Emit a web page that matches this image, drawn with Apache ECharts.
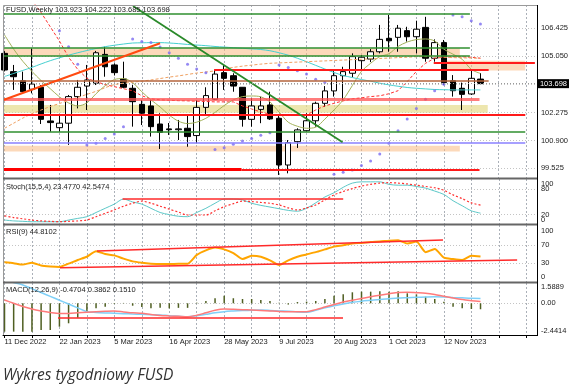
<!DOCTYPE html>
<html><head><meta charset="utf-8">
<script src="https://cdn.jsdelivr.net/npm/echarts@6/dist/echarts.min.js"></script>
<style>html,body{margin:0;padding:0;background:#fff;}#c{width:572px;height:390px;}</style>
</head><body><div id="c"></div>
<script>
// ---------- DATA ----------
const dateLabels = ['11 Dec 2022','22 Jan 2023','5 Mar 2023','16 Apr 2023','28 May 2023','9 Jul 2023','20 Aug 2023','1 Oct 2023','12 Nov 2023'];
const labelWeeks = [0,6,12,18,24,30,36,42,48];
const gridWeeks = [0,3,6,9,12,15,18,21,24,27,30,33,36,39,42,45,48,51,54,57];

const opens = [105.19,104.29,103.84,103.42,103.52,101.86,101.53,101.75,103.06,103.58,103.72,105.14,104.62,103.93,103.47,102.68,102.60,101.71,101.47,101.43,101.50,101.14,102.53,102.93,104.24,104.09,103.52,101.94,102.43,102.65,101.99,99.69,100.84,101.38,101.87,102.73,103.34,104.09,104.21,104.83,104.91,105.27,105.93,105.98,106.31,106.01,106.47,104.95,105.72,103.84,103.47,103.19,103.923];
const highs = [105.30,104.62,104.29,105.44,103.63,102.65,102.16,103.14,103.88,104.62,105.31,105.52,104.70,104.78,103.63,102.89,102.89,102.24,101.76,101.91,102.16,102.89,103.52,104.37,104.62,104.21,103.53,102.98,103.06,103.30,102.16,100.92,101.50,102.24,102.81,103.58,104.37,104.53,105.19,105.11,105.40,106.59,107.08,106.59,106.50,106.80,106.99,105.88,105.85,104.12,103.75,104.37,104.222];
const lows = [104.30,103.39,103.22,103.22,101.71,101.33,101.33,100.68,102.48,102.40,103.63,104.04,104.10,103.47,101.58,101.66,101.09,100.48,101.17,100.92,100.59,100.76,102.12,102.89,103.39,103.30,101.58,101.58,101.75,101.91,99.20,99.28,100.53,101.33,101.58,102.56,103.06,102.89,104.01,104.37,104.76,105.19,105.27,105.27,105.77,105.19,104.78,104.78,103.63,103.06,102.40,103.14,103.685];
const closes = [104.37,104.04,103.30,103.68,101.94,101.78,101.75,103.06,103.52,103.88,105.22,104.53,104.24,103.52,102.81,102.24,101.58,101.30,101.43,101.47,101.09,102.53,103.11,104.17,103.96,103.58,101.94,102.60,102.60,101.96,99.69,100.79,101.42,101.87,102.73,103.34,104.09,104.29,105.03,105.00,105.27,105.88,105.81,106.43,106.01,106.38,104.95,105.72,103.75,103.35,103.17,103.96,103.698];

const maRed = [109.6,109.0,108.3,107.8,107.2,106.5,105.8,105.0,104.4,103.96,103.8,103.65,103.55,103.45,103.35,103.1,102.95,102.9,102.88,102.86,102.85,102.83,102.82,102.8,102.8,102.8,102.6,102.45,102.3,102.2,102.15,102.15,102.15,102.15,102.4,102.6,102.73,102.85,102.95,103.0,103.06,103.1,103.2,103.35,103.8,104.3,104.7,104.95,105.0,105.02,105.02,105.0,104.95];
const maOlive = [106.1,105.4,104.8,104.3,103.85,103.45,103.05,102.75,102.6,102.75,103.2,103.6,103.9,103.95,103.75,103.3,102.9,102.55,102.15,101.85,101.73,101.8,101.99,102.28,102.62,102.9,103.06,103.09,103.05,102.8,102.3,101.8,101.6,101.5,101.55,101.95,102.4,102.9,103.6,104.3,104.7,105.03,105.17,105.53,105.75,105.87,105.9,105.8,105.4,105.15,104.9,104.4,104.2];
const maCyan = [104.05,104.2,104.35,104.5,104.67,104.83,104.97,105.1,105.22,105.33,105.43,105.52,105.59,105.65,105.7,105.71,105.72,105.72,105.7,105.67,105.63,105.6,105.57,105.53,105.5,105.47,105.44,105.41,105.38,105.32,105.22,105.1,104.95,104.78,104.6,104.42,104.25,104.1,104.0,103.9,103.82,103.72,103.64,103.57,103.51,103.47,103.44,103.41,103.4,103.39,103.39,103.39,103.39];
const maOrange = [101.5,101.75,102.0,102.22,102.4,102.57,102.72,102.87,103.02,103.17,103.32,103.5,103.65,103.72,103.77,103.82,103.88,103.95,104.02,104.08,104.15,104.22,104.27,104.33,104.42,104.5,104.56,104.61,104.66,104.7,104.72,104.74,104.76,104.78,104.8,104.82,104.84,104.86,104.88,104.9,104.92,104.94,104.96,104.98,105.0,105.02,105.03,105.02,105.0,104.98,104.97,104.96,104.95];
const sar = [null,null,null,null,null,null,106.31,105.52,104.65,100.68,100.76,101.0,101.22,101.58,105.9,105.77,105.72,105.5,105.22,104.95,104.65,104.42,104.24,100.46,100.54,100.71,100.87,100.99,101.15,101.28,104.62,104.5,104.33,104.17,103.91,103.75,99.23,99.33,99.44,99.66,99.89,100.23,100.76,101.38,101.96,102.48,102.93,103.35,103.67,107.08,106.99,106.80,106.64];

const stochK = [7,5,4,3,3,3,3,7,11,15,25,35,45,57,50,45,35,25,20,16,15,25,35,47,57,57,55,47,42,38,34,30,28,35,48,62,72,85,95,98,98,98,92,90,90,87,83,76,68,53,41,29,23.477];
const stochD = [17,13,10,7,5,4,3,4,5,7,15,23,31,40,47,52,47,40,33,26,19,19,19,29,39,46,52,51,49,47,43,36,31,36,43,55,67,75,82,88,92,95,96,95,93,90,87,84,78,67,58,48,42.5474];
const rsi = [32,30,27,31,25,23,22,29,37,44,56,50,47,40,34,31,29,28,28,29,29,48,58,64,60,52,39,46,44,36,26,36,44,49,54,60,66,69,73,74,76,77,79,80,73,77,54,61,42,39,37,46,44.8102];
const macdHist = [-2.24,-2.24,-2.24,-2.24,-2.11,-2.11,-1.85,-1.58,-1.14,-0.66,-0.40,-0.27,-0.05,0.03,-0.19,-0.30,-0.40,-0.36,-0.40,-0.36,-0.36,0.05,0.18,0.40,0.60,0.40,0.34,0.34,0.26,0.18,0.05,-0.10,0.10,0.13,0.18,0.34,0.60,0.71,0.87,0.92,0.92,0.95,0.92,0.95,0.79,0.71,0.52,0.34,0.13,-0.27,-0.40,-0.45,-0.4704];
const macdMain = [1.9,1.65,1.45,1.15,0.85,0.55,0.24,-0.06,-0.36,-0.66,-0.72,-0.76,-0.79,-0.82,-0.85,-0.87,-0.9,-0.92,-0.98,-1.02,-1.06,-0.98,-0.87,-0.75,-0.66,-0.61,-0.57,-0.54,-0.53,-0.56,-0.6,-0.63,-0.68,-0.71,-0.55,-0.35,-0.2,-0.05,0.08,0.17,0.24,0.31,0.36,0.41,0.44,0.47,0.5,0.52,0.5,0.46,0.43,0.40,0.3862];
const macdSignal = [0.26,0.0,-0.25,-0.45,-0.6,-0.72,-0.8,-0.8,-0.75,-0.7,-0.66,-0.63,-0.61,-0.68,-0.75,-0.79,-0.88,-0.96,-1.0,-1.03,-1.06,-0.95,-0.75,-0.55,-0.45,-0.47,-0.5,-0.53,-0.56,-0.6,-0.64,-0.66,-0.66,-0.66,-0.5,-0.3,-0.1,0.1,0.24,0.38,0.52,0.64,0.75,0.86,0.87,0.84,0.8,0.7,0.55,0.42,0.3,0.2,0.1510];

const priceLabels = [99.525,100.900,102.275,105.050,106.425];
const priceGrid = [99.525,100.900,102.275,103.650,105.050,106.425];
const stochLevels = [80,20], stochBounds = [100,0];
const rsiLabels = [100,70,30,0], rsiLevels = [70,30];
const macdLabels = [1.5889,0,-2.4414], macdLevels = [0];

// drawn levels: [fromWeek, toWeek, price]
const greenLevels = [[-0.16,50.85,107.16],[-0.16,50.85,105.49],[-0.16,50.85,105.06],[-0.16,56.9,101.35]];
const redLevels = [[-0.16,56.9,102.15],[22.9,52.9,104.36],[46.9,57.95,104.73],[25.9,51.9,99.44]];
const heavyRedLevels = [[-0.16,25.9,99.49]];
const lightRedLevels = [[-0.16,51.9,102.94]];
const brownLevels = [[-0.16,52.9,103.86]];
const blueLevels = [[-0.16,56.9,100.81]];
// zones: [fromWeek, toWeek, low, high]
const peachZones = [[-0.16,49.75,105.06,105.44],[48.1,56.9,104.34,104.83],[-0.16,49.75,100.35,100.64]];
const yellowZones = [[-0.16,52.8,102.27,102.65]];
// trend lines: [[week, value],[week, value]]
const trendUp = [[-0.13,102.89],[17.0,105.69]];
const trendDown = [[14.04,107.52],[36.94,100.81]];
const stochTrend = [[12.9,57.9],[37.0,57.9]];
const rsiTrendHigh = [[10.1,56.5],[47.9,80.4]];
const rsiTrendLow = [[6.06,20.2],[56.0,37.0]];
const macdTrend = [[5.84,-1.14],[36.98,-1.14]];

// ---------- CHART ----------
const N = closes.length;
const X_MIN = -0.164, X_MAX = 58.17;
const FONT = 'Liberation Sans';
const TXT = '#222';
const pairs = arr => arr.map((v,i) => [i, v == null ? '-' : v]);
const seg = (a, b, style) => [{coord: a, lineStyle: style}, {coord: b}];
const levelSegs = (list, style) => list.map(([x0,x1,p]) => seg([x0,p],[x1,p],style));
const zoneAreas = (list, color) => list.map(([x0,x1,lo,hi]) => [{coord:[x0,hi], itemStyle:{color}},{coord:[x1,lo]}]);

function xAxis(g, show) {
  return {
    type:'value', gridIndex:g, min:X_MIN, max:X_MAX,
    axisLine:{show:show, onZero:false, lineStyle:{color:'#000', width:1}},
    axisTick:{show:show, customValues:gridWeeks, length:3, lineStyle:{color:'#000'}},
    axisLabel:{show:show, customValues:labelWeeks, formatter:v => dateLabels[labelWeeks.indexOf(v)] || '',
      align:'left', fontSize:7.5, fontFamily:FONT, color:TXT, margin:3, hideOverlap:false},
    splitLine:{show:true, lineStyle:{color:'#aab0b8', type:[2,2], width:1}}
  };
}
function yAxis(g, min, max, labels, levels, fmt, rich, split) {
  return {
    type:'value', gridIndex:g, position:'right', min, max,
    axisLine:{show:false}, axisTick:{show:false, customValues:levels},
    axisLabel:{customValues:labels, formatter:fmt, fontSize:7.5, fontFamily:FONT, color:TXT, margin:4,
      hideOverlap:false, rich: rich || {}},
    splitLine:{show:split !== false, lineStyle:{color:'#c4c4c4', type:[1,2], width:1}}
  };
}
const shiftRich = {
  dn:{padding:[5,0,0,0], fontSize:7.5, fontFamily:FONT, color:TXT},
  dn2:{padding:[8,0,0,0], fontSize:7.5, fontFamily:FONT, color:TXT},
  up:{padding:[0,0,7,0], fontSize:7.5, fontFamily:FONT, color:TXT},
  up2:{padding:[0,0,6,0], fontSize:7.5, fontFamily:FONT, color:TXT}
};

const chart = echarts.init(document.getElementById('c'), null, {renderer:'canvas'});
const option = {
  animation:false,
  backgroundColor:'#fff',
  grid:[
    {left:3, right:35, top:5, height:173},
    {left:3, right:35, top:179, height:45},
    {left:3, right:35, top:225, height:57},
    {left:3, right:35, top:283, height:52}
  ],
  xAxis:[xAxis(0,false), xAxis(1,false), xAxis(2,false), xAxis(3,true)],
  yAxis:[
    yAxis(0, 99.05, 107.573, priceLabels, priceGrid, v => v.toFixed(3)),
    yAxis(1, -2.38, 104.76, stochLevels, stochLevels, v => String(v)),
    yAxis(2, -10.87, 113.04, rsiLabels, rsiLevels, v => String(v)),
    yAxis(3, -2.506, 1.605, macdLabels, macdLevels, v => v===0 ? '0.00' : v>0 ? '{dn2|'+v.toFixed(4)+'}' : '{up2|'+v.toFixed(4)+'}', shiftRich),
    {type:'value', gridIndex:0, position:'right', min:99.05, max:107.573,
      axisLine:{show:false}, axisTick:{show:false}, splitLine:{show:false},
      axisLabel:{customValues:[closes[N-1]], formatter:v => v.toFixed(3), fontSize:7.5, fontFamily:FONT,
        color:'#fff', backgroundColor:'#000', padding:[1,2,0,2], margin:1}},
    yAxis(1, -2.38, 104.76, stochBounds, stochBounds, v => v===100 ? '{dn|100}' : '{up|0}', shiftRich, false)
  ],
  series:[
    { // zones and drawn levels
      type:'line', xAxisIndex:0, yAxisIndex:0, z:1, data:[], silent:true,
      markArea:{silent:true, label:{show:false},
        data: zoneAreas(peachZones,'rgba(250,185,130,0.55)').concat(zoneAreas(yellowZones,'rgba(230,220,140,0.7)'))},
      markLine:{silent:true, symbol:['none','none'], label:{show:false},
        data: [].concat(
          levelSegs(greenLevels,{color:'#2f8f2f', width:1.5, type:'solid'}),
          levelSegs(redLevels,{color:'#ff1a1a', width:2, type:'solid'}),
          levelSegs(heavyRedLevels,{color:'#ff0000', width:3, type:'solid'}),
          levelSegs(lightRedLevels,{color:'rgba(255,80,80,0.75)', width:3, type:'solid'}),
          levelSegs(brownLevels,{color:'#b5653c', width:1.5, type:'solid'}),
          levelSegs(blueLevels,{color:'#8a80ff', width:1.5, type:'solid'}),
          [seg(trendUp[0], trendUp[1], {color:'#ff4a10', width:2, type:'solid'})],
          [seg(trendDown[0], trendDown[1], {color:'#2a8a2a', width:1.8, type:'solid'})],
          [[{coord:[X_MIN, closes[N-1]], lineStyle:{color:'#9a9a9a', width:1, type:[1,2]}},{coord:[X_MAX, closes[N-1]]}]]
        )}
    },
    {
      type:'candlestick', xAxisIndex:0, yAxisIndex:0, z:3, barWidth:6,
      encode:{x:0, y:[1,2,3,4]},
      data: opens.map((o,i) => [i, o, closes[i], lows[i], highs[i]]),
      itemStyle:{color:'#ffffff', color0:'#000000', borderColor:'#000000', borderColor0:'#000000', borderWidth:1}
    },
    {type:'line', xAxisIndex:0, yAxisIndex:0, z:4, data:pairs(maRed), symbol:'none', lineStyle:{color:'#ff3030', width:1, type:[3,2]}},
    {type:'line', xAxisIndex:0, yAxisIndex:0, z:4, data:pairs(maOlive), symbol:'none', smooth:0.3, lineStyle:{color:'#a3b25a', width:1}},
    {type:'line', xAxisIndex:0, yAxisIndex:0, z:4, data:pairs(maCyan), symbol:'none', smooth:0.3, lineStyle:{color:'#45d0d0', width:1}},
    {type:'line', xAxisIndex:0, yAxisIndex:0, z:4, data:pairs(maOrange), symbol:'none', smooth:0.3, lineStyle:{color:'#f0a060', width:1, type:[3,2]}},
    {type:'scatter', xAxisIndex:0, yAxisIndex:0, z:4, symbolSize:3,
      data: sar.map((v,i) => [i,v]).filter(d => d[1] != null), itemStyle:{color:'#7a6cf0'}},
    // Stochastic
    {type:'line', xAxisIndex:1, yAxisIndex:1, z:3, data:pairs(stochK), symbol:'none', smooth:0.3, lineStyle:{color:'#5cc8c8', width:1},
      markLine:{silent:true, symbol:['none','none'], label:{show:false},
        data:[seg(stochTrend[0], stochTrend[1], {color:'#ff2a2a', width:1.5, type:'solid'})]}},
    {type:'line', xAxisIndex:1, yAxisIndex:1, z:3, data:pairs(stochD), symbol:'none', smooth:0.3, lineStyle:{color:'#ff3030', width:1.2, type:[2,2]}},
    // RSI
    {type:'line', xAxisIndex:2, yAxisIndex:2, z:3, data:pairs(rsi), symbol:'none', smooth:0.2, lineStyle:{color:'#ffa500', width:2},
      markLine:{silent:true, symbol:['none','none'], label:{show:false},
        data:[seg(rsiTrendHigh[0], rsiTrendHigh[1], {color:'#ff2a2a', width:1.5, type:'solid'}),
              seg(rsiTrendLow[0], rsiTrendLow[1], {color:'#ff2a2a', width:1.5, type:'solid'})]}},
    // MACD
    {type:'bar', xAxisIndex:3, yAxisIndex:3, z:2, data:pairs(macdHist), barWidth:1.5, itemStyle:{color:'#4f5f22'},
      markLine:{silent:true, symbol:['none','none'], label:{show:false},
        data:[seg(macdTrend[0], macdTrend[1], {color:'#ff2a2a', width:1.5, type:'solid'})]}},
    {type:'line', xAxisIndex:3, yAxisIndex:3, z:3, data:pairs(macdMain), symbol:'none', smooth:0.3, lineStyle:{color:'#7fd0f8', width:1.5}},
    {type:'line', xAxisIndex:3, yAxisIndex:3, z:3, data:pairs(macdSignal), symbol:'none', smooth:0.3, lineStyle:{color:'#ff7a7a', width:1.5}}
  ],
  graphic:[
    {type:'rect', z:50, silent:true, shape:{x:3.5, y:5.5, width:534, height:330}, style:{fill:null, stroke:'#9a9a9a', lineWidth:1}},
    {type:'line', z:50, silent:true, shape:{x1:3, y1:178.5, x2:537, y2:178.5}, style:{stroke:'#666', lineWidth:2}},
    {type:'line', z:50, silent:true, shape:{x1:3, y1:224.5, x2:537, y2:224.5}, style:{stroke:'#666', lineWidth:2}},
    {type:'line', z:50, silent:true, shape:{x1:3, y1:282.5, x2:537, y2:282.5}, style:{stroke:'#666', lineWidth:2}},
    {type:'line', z:50, silent:true, shape:{x1:537.5, y1:5, x2:537.5, y2:336}, style:{stroke:'#000', lineWidth:1}},
    {type:'line', z:50, silent:true, shape:{x1:3, y1:335.5, x2:538, y2:335.5}, style:{stroke:'#000', lineWidth:1}},
    {type:'text', z:60, silent:true, left:6, top:6, style:{text:'FUSD,Weekly ' + [opens[N-1],highs[N-1],lows[N-1],closes[N-1]].map(v=>v.toFixed(3)).join(' '), font:'7.5px "Liberation Sans"', fill:'#222'}},
    {type:'text', z:60, silent:true, left:6, top:183, style:{text:'Stoch(15,5,4) ' + stochK[N-1].toFixed(4) + ' ' + stochD[N-1].toFixed(4), font:'7.5px "Liberation Sans"', fill:'#222'}},
    {type:'text', z:60, silent:true, left:6, top:228, style:{text:'RSI(9) ' + rsi[N-1].toFixed(4), font:'7.5px "Liberation Sans"', fill:'#222'}},
    {type:'text', z:60, silent:true, left:6, top:286, style:{text:'MACD(12,26,9) ' + [macdHist[N-1],macdMain[N-1],macdSignal[N-1]].map(v=>v.toFixed(4)).join(' '), font:'7.5px "Liberation Sans"', fill:'#222'}},
    {type:'text', z:60, silent:true, left:3, top:368, style:{text:'Wykres tygodniowy FUSD', font:'italic 15.5px "Open Sans"', fill:'#333'}}
  ]
};
chart.setOption(option);
</script></body></html>
